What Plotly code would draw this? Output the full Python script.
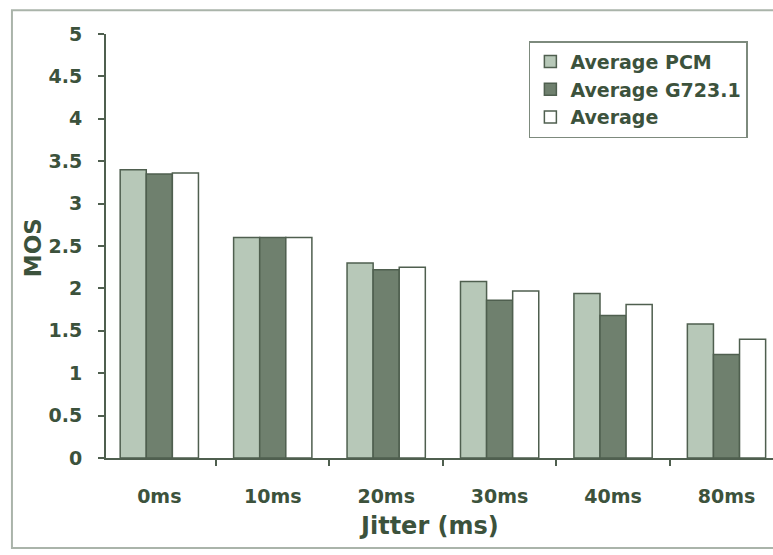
import plotly.graph_objects as go

# MOS scores by jitter level
jitter = ["0ms", "10ms", "20ms", "30ms", "40ms", "80ms"]
avg_pcm = [3.40, 2.60, 2.30, 2.08, 1.94, 1.58]
avg_g7231 = [3.35, 2.60, 2.22, 1.86, 1.68, 1.22]
avg_all = [3.36, 2.60, 2.25, 1.97, 1.81, 1.40]

y_ticks = [0, 0.5, 1, 1.5, 2, 2.5, 3, 3.5, 4, 4.5, 5]
y_tick_text = ["0", "0.5", "1", "1.5", "2", "2.5", "3", "3.5", "4", "4.5", "5"]

TEXT = "#3c523c"
EDGE = "#4f5f4f"
FONT = "DejaVu Sans"

fig = go.Figure()
fig.add_trace(go.Bar(name="Average PCM", x=jitter, y=avg_pcm,
                     marker=dict(color="#b7c8b8", line=dict(color=EDGE, width=1.5))))
fig.add_trace(go.Bar(name="Average G723.1", x=jitter, y=avg_g7231,
                     marker=dict(color="#6f806e", line=dict(color=EDGE, width=1.5))))
fig.add_trace(go.Bar(name="Average", x=jitter, y=avg_all,
                     marker=dict(color="#ffffff", line=dict(color=EDGE, width=1.5))))

fig.update_layout(
    width=773, height=555,
    margin=dict(l=106, r=0, t=34, b=97, autoexpand=False),
    paper_bgcolor="white", plot_bgcolor="white",
    barmode="group", bargap=0.31, bargroupgap=0,
    font=dict(family=FONT, color=TEXT, size=15, weight="bold"),
    showlegend=True,
    legend=dict(x=0.634, y=0.983, xanchor="left", yanchor="top",
                bordercolor="#7d8a7d", borderwidth=1.5, bgcolor="white",
                font=dict(family=FONT, size=19, color=TEXT, weight="bold"),
                itemwidth=30, tracegroupgap=0),
    xaxis=dict(
        range=[-0.47, 5.41], showline=True, linecolor=EDGE, linewidth=2,
        ticks="outside", tickson="boundaries", ticklen=6, tickcolor=EDGE, tickwidth=2,
        tickfont=dict(family=FONT, size=19, color=TEXT, weight="bold"),
        ticklabelstandoff=20,
        showgrid=False, fixedrange=True,
    ),
    yaxis=dict(
        range=[0, 5], showline=True, linecolor=EDGE, linewidth=2,
        tickvals=y_ticks, ticktext=y_tick_text,
        ticks="outside", ticklen=6, tickcolor=EDGE, tickwidth=2,
        tickfont=dict(family=FONT, size=19, color=TEXT, weight="bold"),
        ticklabelstandoff=12,
        showgrid=False, zeroline=False, fixedrange=True,
    ),
    annotations=[
        dict(text="Jitter (ms)", xref="paper", yref="paper",
             x=0.484, y=-0.122, xanchor="center", yanchor="top",
             showarrow=False,
             font=dict(family=FONT, size=24, color=TEXT, weight="bold")),
        dict(text="MOS", xref="paper", yref="paper", textangle=-90,
             x=-0.1094, y=0.495, xanchor="center", yanchor="middle",
             showarrow=False,
             font=dict(family=FONT, size=23, color=TEXT, weight="bold")),
    ],
    shapes=[dict(type="rect", xref="paper", yref="paper",
                 x0=-0.141, x1=1.02, y0=-0.212, y1=1.056,
                 line=dict(color="#aab4aa", width=2), layer="below")],
)

fig.write_html("out.html")
